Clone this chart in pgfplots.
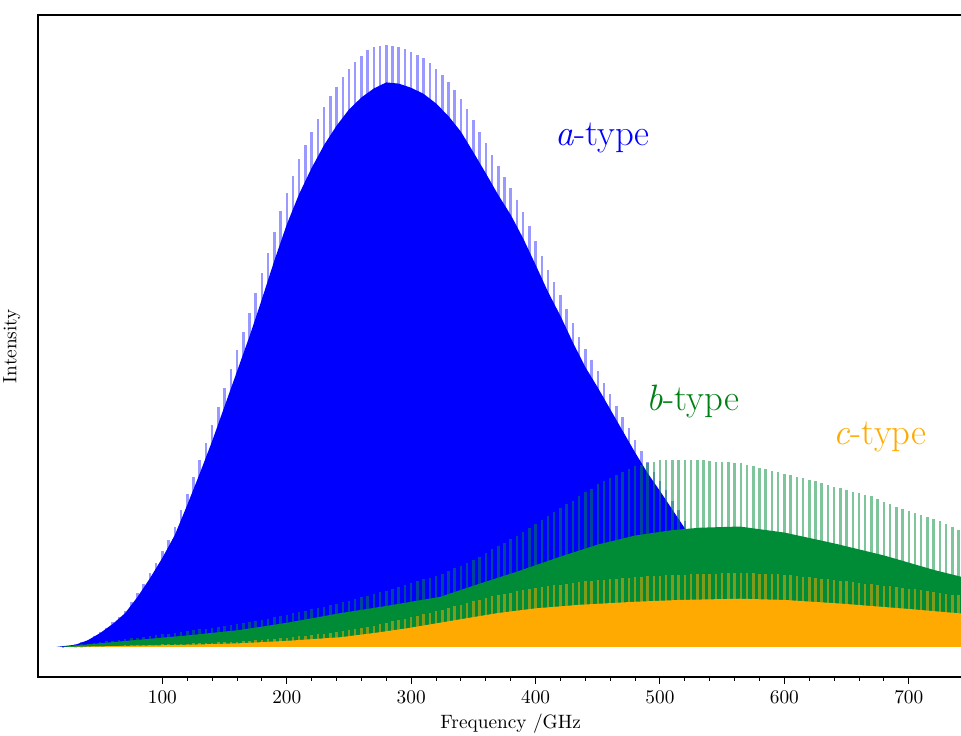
\documentclass[border=0pt]{standalone}
\usepackage{pgfplots}
\usepackage{pgfplotstable}
\pgfplotsset{compat=1.18}

\definecolor{atype}{RGB}{0,0,255}
\definecolor{btype}{RGB}{0,140,55}
\definecolor{blabel}{RGB}{0,128,20}
\definecolor{ctype}{RGB}{255,170,0}

% stick heights (upper envelope of each line series), every 5 GHz
\pgfplotstableread{
f a b c
15 0.0 0.0 0.0
20 0.1 0.05 0.0
25 0.2 0.2 0.0
30 0.4 0.3 0.02
35 0.8 0.45 0.05
40 1.2 0.55 0.08
45 1.8 0.7 0.1
50 2.5 0.8 0.13
55 3.2 0.9 0.16
60 4.1 1.05 0.2
65 5.0 1.2 0.22
70 6.0 1.3 0.25
75 7.4 1.45 0.28
80 8.9 1.55 0.3
85 10.5 1.7 0.33
90 12.3 1.8 0.36
95 14.0 1.95 0.39
100 15.9 2.1 0.42
105 17.8 2.2 0.45
110 20.0 2.35 0.48
115 22.8 2.5 0.52
120 25.4 2.6 0.55
125 28.2 2.75 0.59
130 31.0 2.9 0.63
135 33.8 3.05 0.67
140 36.8 3.2 0.71
145 39.9 3.3 0.76
150 43.0 3.45 0.8
155 46.1 3.6 0.85
160 49.3 3.75 0.89
165 52.4 3.9 0.94
170 55.5 4.1 1.02
175 58.8 4.3 1.1
180 62.2 4.5 1.18
185 65.5 4.7 1.26
190 69.0 4.9 1.34
195 72.4 5.1 1.42
200 75.5 5.3 1.5
205 78.2 5.55 1.62
210 81.0 5.8 1.74
215 83.4 6.0 1.86
220 85.6 6.25 1.97
225 87.8 6.5 2.09
230 89.7 6.7 2.2
235 91.5 6.95 2.32
240 93.1 7.15 2.43
245 94.7 7.4 2.57
250 96.0 7.7 2.76
255 97.2 8.0 2.95
260 98.2 8.3 3.13
265 99.2 8.5 3.32
270 99.6 8.8 3.5
275 99.9 9.05 3.74
280 100.0 9.3 3.98
285 99.8 9.6 4.22
290 99.6 9.9 4.46
295 99.3 10.3 4.7
300 98.8 10.6 4.94
305 98.3 10.9 5.18
310 97.8 11.2 5.42
315 97.1 11.5 5.66
320 96.1 11.8 5.9
325 95.0 12.15 6.18
330 93.8 12.6 6.45
335 92.5 13.1 6.73
340 91.1 13.5 7.0
345 89.3 14.0 7.28
350 87.5 14.5 7.55
355 85.6 15.0 7.83
360 83.7 15.6 8.1
365 81.8 16.2 8.38
370 79.9 16.8 8.64
375 78.1 17.3 8.83
380 76.3 17.9 9.03
385 74.3 18.5 9.22
390 72.2 19.1 9.42
395 70.0 19.8 9.61
400 67.5 20.4 9.8
405 65.0 21.1 9.94
410 62.7 21.7 10.08
415 60.6 22.4 10.22
420 58.5 23.0 10.36
425 56.2 23.7 10.5
430 53.8 24.3 10.63
435 51.5 25.0 10.77
440 49.5 25.7 10.87
445 47.6 26.3 10.96
450 45.8 27.0 11.05
455 43.9 27.5 11.14
460 42.0 28.0 11.24
465 40.0 28.5 11.33
470 38.2 29.0 11.42
475 36.3 29.5 11.51
480 34.4 30.0 11.6
485 32.5 30.3 11.66
490 30.7 30.5 11.72
495 29.1 30.8 11.78
500 27.6 31.0 11.83
505 26.0 31.0 11.89
510 24.3 31.0 11.94
515 22.7 31.0 12.0
520 21.0 31.0 12.02
525 19.3 31.0 12.05
530 17.7 31.0 12.08
535 16.0 31.0 12.11
540 14.3 30.9 12.14
545 12.7 30.8 12.17
550 11.0 30.8 12.2
555 9.7 30.7 12.24
560 8.3 30.6 12.27
565 7.0 30.5 12.3
570 6.0 30.3 12.26
575 5.0 30.1 12.22
580 4.0 29.8 12.17
585 3.5 29.5 12.12
590 3.0 29.3 12.08
595 2.5 29.0 12.04
600 2.0 28.8 12.0
605 1.7 28.5 11.89
610 1.5 28.3 11.78
615 1.2 28.0 11.67
620 1.0 27.7 11.56
625 0.8 27.5 11.44
630 0.6 27.2 11.33
635 0.5 26.9 11.22
640 0.4 26.6 11.11
645 0.3 26.4 11.0
650 0.2 26.1 10.88
655 0.1 25.8 10.76
660 0.0 25.5 10.65
665 0.0 25.3 10.53
670 0.0 25.0 10.41
675 0.0 24.6 10.29
680 0.0 24.1 10.17
685 0.0 23.7 10.06
690 0.0 23.3 9.94
695 0.0 22.9 9.82
700 0.0 22.5 9.7
705 0.0 22.2 9.56
710 0.0 21.9 9.41
715 0.0 21.6 9.27
720 0.0 21.3 9.12
725 0.0 21.0 8.98
730 0.0 20.5 8.83
735 0.0 20.0 8.69
740 0.0 19.5 8.54
745 0.0 19.0 8.4
}\sticks

\begin{document}
\begin{tikzpicture}
\begin{axis}[
scale only axis,
width=17.207cm, height=12.048cm,
xmin=0, xmax=760,
ymin=-5, ymax=105,
xtick={100,200,...,700},
minor x tick num=4,
ytick=\empty,
xtick pos=bottom,
tick align=outside,
major tick length=0.127cm,
minor tick length=0.073cm,
every tick/.style={black, line width=0.5pt},
axis line style={black, line width=0.7pt},
xlabel={Frequency /GHz},
ylabel={Intensity},
ylabel style={at={(axis description cs:-0.0115,0.5)}, anchor=south},
xlabel style={yshift=0.05cm},
]

% a-type
\addplot[draw=none, fill=atype] coordinates {
(15,0)(30,0.35)(40,1.1)(50,2.3)(60,3.8)(70,5.6)(80,8.3)(90,11.4)(100,14.8)
(110,18.6)(120,23.6)(130,28.8)(140,34.2)(150,40.0)(160,45.8)(170,51.6)
(180,57.8)(190,64.2)(200,70.2)(210,75.3)(220,79.6)(230,83.4)(240,86.6)
(250,89.3)(260,91.3)(270,92.8)(280,93.8)(290,93.6)(300,92.9)(310,91.9)
(320,90.3)(330,88.2)(340,85.6)(350,82.2)(360,78.7)(370,75.1)(380,71.8)
(390,67.9)(400,63.5)(410,59.0)(420,55.0)(430,50.6)(440,46.5)(450,43.1)
(460,39.5)(470,35.9)(480,32.3)(490,28.9)(500,25.9)(510,22.8)(520,19.7)
(530,16.6)(540,13.4)(550,10.3)(560,7.7)(570,5.6)(580,3.7)(590,2.8)
(600,1.9)(620,0.9)(640,0.3)(660,0)
} \closedcycle;
\addplot[ycomb, atype, opacity=0.4, line width=1.3pt] table[x=f, y=a] {\sticks};

% b-type
\addplot[draw=none, fill=btype] coordinates {
(18,0)(50,0.6)(82,1.2)(120,1.9)(162,2.8)(200,4.0)(243,5.6)(280,6.8)
(323,8.3)(355,10.5)(385,12.5)(420,15.0)(450,17.0)(480,18.5)(510,19.4)
(532,19.8)(564,20.0)(600,19.0)(640,17.2)(680,15.2)(720,12.8)(745,11.5)(745,0)
} \closedcycle;
\addplot[ycomb, btype, opacity=0.5, line width=1.3pt] table[x=f, y=b] {\sticks};

% c-type
\addplot[draw=none, fill=ctype] coordinates {
(25,0)(80,0.2)(120,0.35)(162,0.6)(200,1.0)(243,1.6)(270,2.3)(297,3.1)
(340,4.6)(369,5.6)(400,6.4)(436,7.0)(480,7.5)(516,7.8)(564,8.0)(600,7.8)
(645,7.2)(700,6.3)(745,5.5)(745,0)
} \closedcycle;
\addplot[ycomb, ctype, opacity=0.5, line width=1.3pt] table[x=f, y=c] {\sticks};

\node[atype, font=\fontsize{19}{23}\selectfont] at (axis cs:454,84.5) {\textit{a}-type};
\node[blabel, font=\fontsize{19}{23}\selectfont] at (axis cs:526.5,40.7) {\textit{b}-type};
\node[ctype, font=\fontsize{19}{23}\selectfont] at (axis cs:677,34.9) {\textit{c}-type};
\end{axis}
\pgfresetboundingbox
\path[use as bounding box] (-0.6916,-1.0738) rectangle (16.799,12.321);
\end{tikzpicture}
\end{document}
